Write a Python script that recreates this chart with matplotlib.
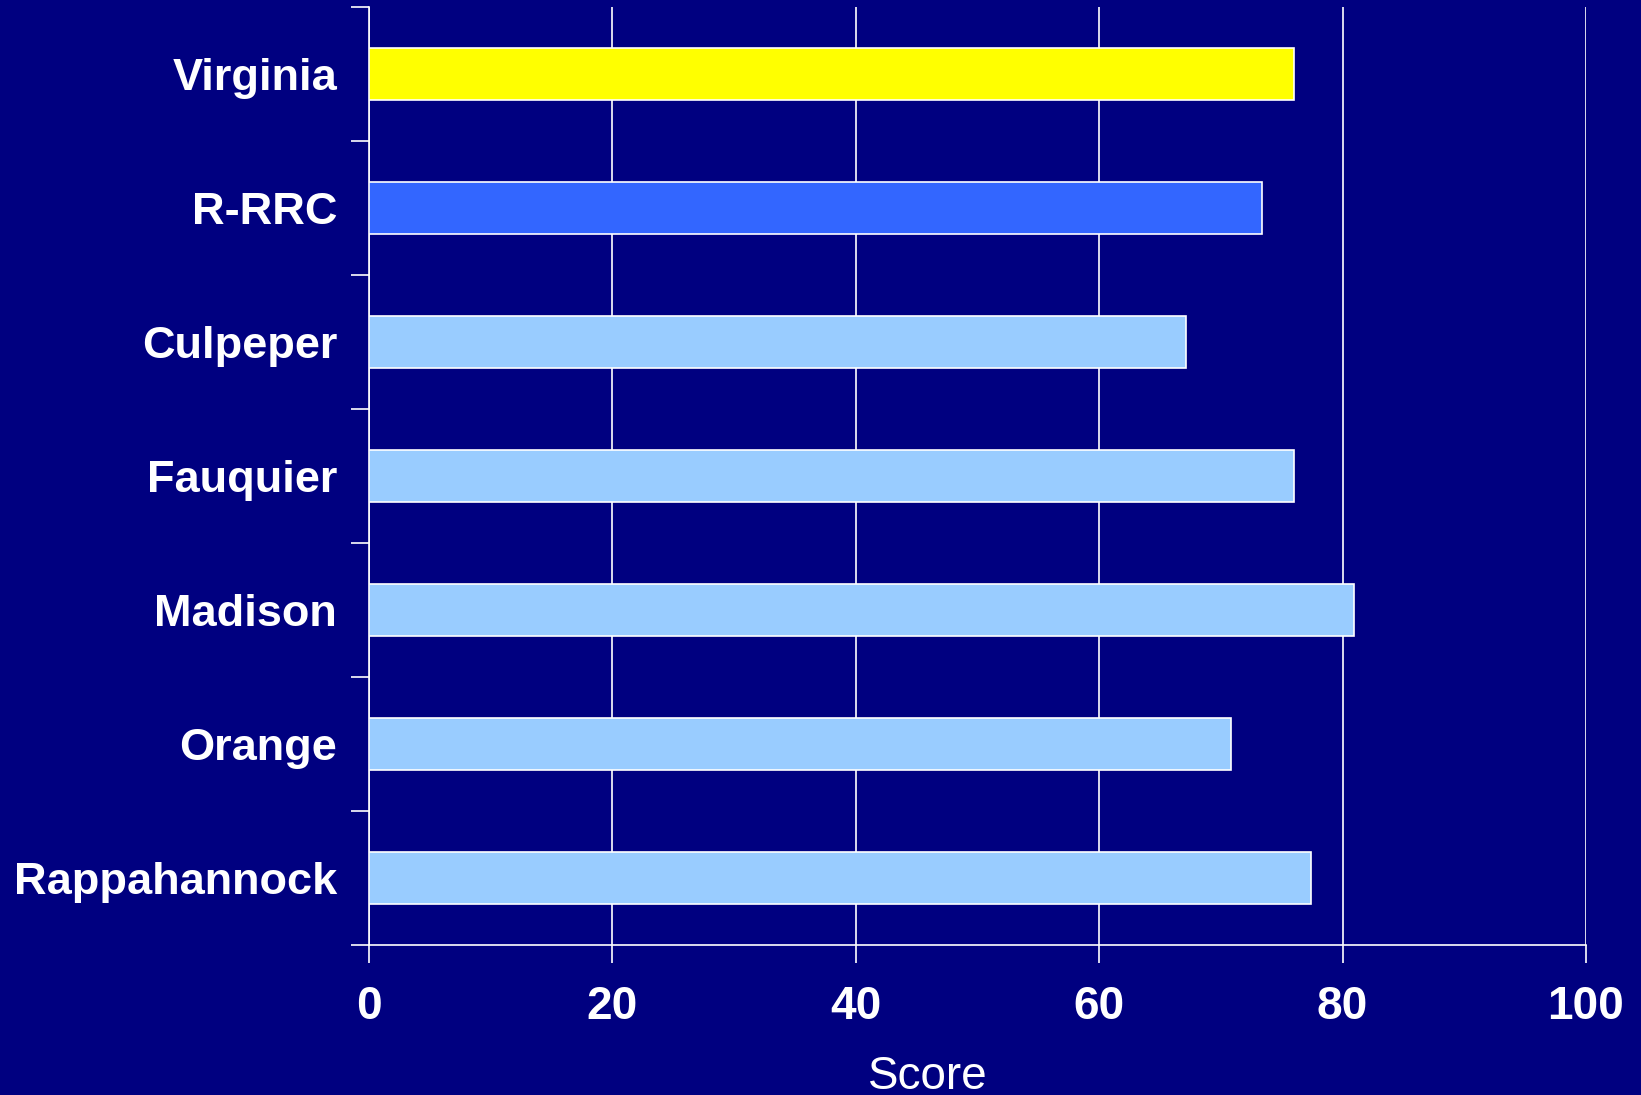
import matplotlib.pyplot as plt
import numpy as np

plt.rcParams["font.family"] = ["Liberation Sans", "DejaVu Sans"]

regions = ["Virginia", "R-RRC", "Culpeper", "Fauquier", "Madison", "Orange", "Rappahannock"]
scores = [76.0, 73.4, 67.1, 76.0, 80.9, 70.8, 77.4]
bar_colors = ["#FFFF00", "#3366FF", "#99CCFF", "#99CCFF", "#99CCFF", "#99CCFF", "#99CCFF"]
x_ticks = [0, 20, 40, 60, 80, 100]

navy = "#000080"

fig = plt.figure(figsize=(16.41, 10.95), dpi=100, facecolor=navy)
ax = fig.add_axes([369 / 1641, 1 - 945 / 1095, 1217 / 1641, 938 / 1095])
ax.set_facecolor(navy)

y = np.arange(len(regions))
ax.barh(y, scores, height=0.39, color=bar_colors, edgecolor="white", linewidth=1.2, zorder=3)

ax.set_xlim(0, 100)
ax.set_ylim(len(regions) - 0.5, -0.5)

# category labels on minor ticks, tick marks on category boundaries
ax.set_yticks(np.arange(-0.5, len(regions), 1.0))
ax.set_yticklabels([])
ax.set_yticks(y, minor=True)
ax.set_yticklabels(regions, minor=True, fontsize=32.5, fontweight="bold", color="white")
ax.tick_params(axis="y", which="minor", length=0, pad=23)
ax.tick_params(axis="y", which="major", length=13, width=1.2, color="white", direction="out")

ax.set_xticks(x_ticks)
ax.set_xticklabels([str(t) for t in x_ticks], fontsize=33, fontweight="bold", color="white")
ax.tick_params(axis="x", length=13, width=1.2, color="white", direction="out", pad=16)

ax.grid(axis="x", color="white", linewidth=1.2, zorder=0)
ax.set_axisbelow(True)

for side in ["top", "right"]:
    ax.spines[side].set_visible(False)
for side in ["left", "bottom"]:
    ax.spines[side].set_color("white")
    ax.spines[side].set_linewidth(1.2)

fig.text(928 / 1641, 1 - 1089 / 1095, "Score", ha="center", va="baseline",
         fontsize=33, color="white")

fig.savefig("out.png", dpi=100, facecolor=navy)
